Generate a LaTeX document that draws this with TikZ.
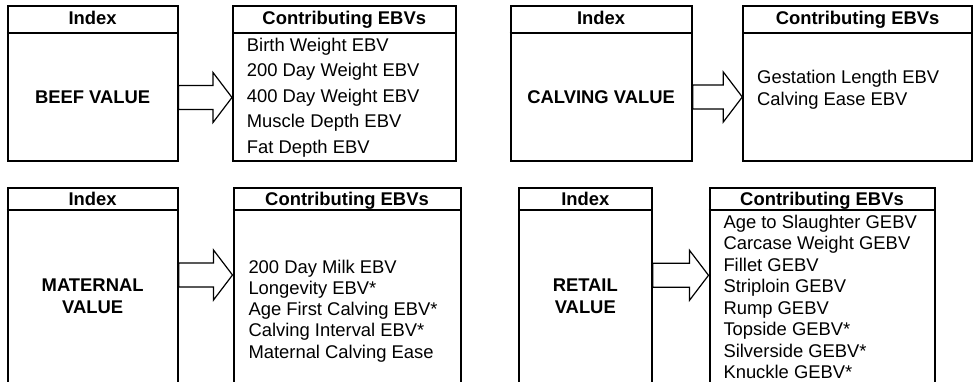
\documentclass[tikz,border=0pt]{standalone}
\usepackage{fontspec}
\setmainfont{Liberation Sans}
\usetikzlibrary{calc}
\newcommand\blockarrow[3]{%
  \draw[blockarr] ($(#1.east |- #3)+(0,-12)$) -- ($(#2.west |- #3)+(-19,-12)$)
    -- ($(#2.west |- #3)+(-19,-25)$) -- (#2.west |- #3)
    -- ($(#2.west |- #3)+(-19,25)$) -- ($(#2.west |- #3)+(-19,12)$)
    -- ($(#1.east |- #3)+(0,12)$) -- cycle;}
\begin{document}
\begin{tikzpicture}[x=1bp,y=-1bp,
  box/.style={draw, line width=2bp, inner sep=0pt},
  hline/.style={line width=2bp},
  blockarr/.style={draw, line width=1.2bp, fill=white, line join=miter},
  txt/.style={font=\fontsize{18.4bp}{22bp}\selectfont, inner sep=0pt, anchor=base west},
  hdr/.style={font=\fontsize{18.4bp}{22bp}\selectfont\bfseries, inner sep=0pt, anchor=base},
]
\useasboundingbox (0,0) rectangle (977,381);
\clip (0,0) rectangle (977,381);
\coordinate (htop) at (0,32.8);
\coordinate (hbot) at (0,209.5);
\coordinate (a1) at (0,97.5);
\coordinate (a2) at (0,97);
\coordinate (a3) at (0,275);
\coordinate (a4) at (0,275.3);

% boxes
\node[box, minimum width=169.7bp, minimum height=154.3bp] (beefidx) at (92.65,83.35) {};
\node[box, minimum width=222.5bp, minimum height=154.3bp] (beefcon) at (344.25,83.35) {};
\node[box, minimum width=181.2bp, minimum height=154.3bp] (calvidx) at (601.1,83.35) {};
\node[box, minimum width=228.5bp, minimum height=154.3bp] (calvcon) at (857.55,83.35) {};
\node[box, minimum width=170.1bp, minimum height=232.5bp] (materidx) at (92.65,303.75) {};
\node[box, minimum width=227bp, minimum height=232.5bp] (matercon) at (347,303.75) {};
\node[box, minimum width=133bp, minimum height=232.5bp] (retidx) at (585.3,303.75) {};
\node[box, minimum width=225bp, minimum height=232.5bp] (retcon) at (822,303.75) {};

% header lines
\foreach \b in {beefidx,beefcon,calvidx,calvcon}
  \draw[hline] (\b.west |- htop) -- (\b.east |- htop);
\foreach \b in {materidx,matercon,retidx,retcon}
  \draw[hline] (\b.west |- hbot) -- (\b.east |- hbot);

% headers
\node[hdr] (beefidxh) at (92.65,24.5) {Index};
\node[hdr] (beefconh) at (344.25,24.5) {Contributing EBVs};
\node[hdr] (calvidxh) at (601.1,24.5) {Index};
\node[hdr] (calvconh) at (857.55,24.5) {Contributing EBVs};
\node[hdr] (materidxh) at (92.65,205) {Index};
\node[hdr] (materconh) at (347,205) {Contributing EBVs};
\node[hdr] (retidxh) at (585.3,205) {Index};
\node[hdr] (retconh) at (822,205) {Contributing EBVs};

% index names
\node[hdr] (beefname) at (92.65,103.3) {BEEF VALUE};
\node[hdr] (calvname) at (601.1,103.3) {CALVING VALUE};
\node[hdr] (matername1) at (92.65,291.7) {MATERNAL};
\node[hdr] (matername2) at (92.65,313.3) {VALUE};
\node[hdr] (retname1) at (585.3,291.7) {RETAIL};
\node[hdr] (retname2) at (585.3,313.3) {VALUE};

% contributing lists
\foreach \t [count=\i from 0] in {Birth Weight EBV,200 Day Weight EBV,400 Day Weight EBV,Muscle Depth EBV,Fat Depth EBV}
  \node[txt] (beefl\i) at (246.7,51+25.5*\i) {\t};
\foreach \t [count=\i from 0] in {Gestation Length EBV,Calving Ease EBV}
  \node[txt] (calvl\i) at (757,83.3+21.7*\i) {\t};
\foreach \t [count=\i from 0] in {200 Day Milk EBV,Longevity EBV*,Age First Calving EBV*,Calving Interval EBV*,Maternal Calving Ease}
  \node[txt] (materl\i) at (248.3,273.3+21.2*\i) {\t};
\foreach \t [count=\i from 0] in {Age to Slaughter GEBV,Carcase Weight GEBV,Fillet GEBV,Striploin GEBV,Rump GEBV,Topside GEBV*,Silverside GEBV*,Knuckle GEBV*}
  \node[txt] (retl\i) at (723.3,228.3+21.45*\i) {\t};

% block arrows
\blockarrow{beefidx}{beefcon}{a1}
\blockarrow{calvidx}{calvcon}{a2}
\blockarrow{materidx}{matercon}{a3}
\blockarrow{retidx}{retcon}{a4}
\end{tikzpicture}
\end{document}
